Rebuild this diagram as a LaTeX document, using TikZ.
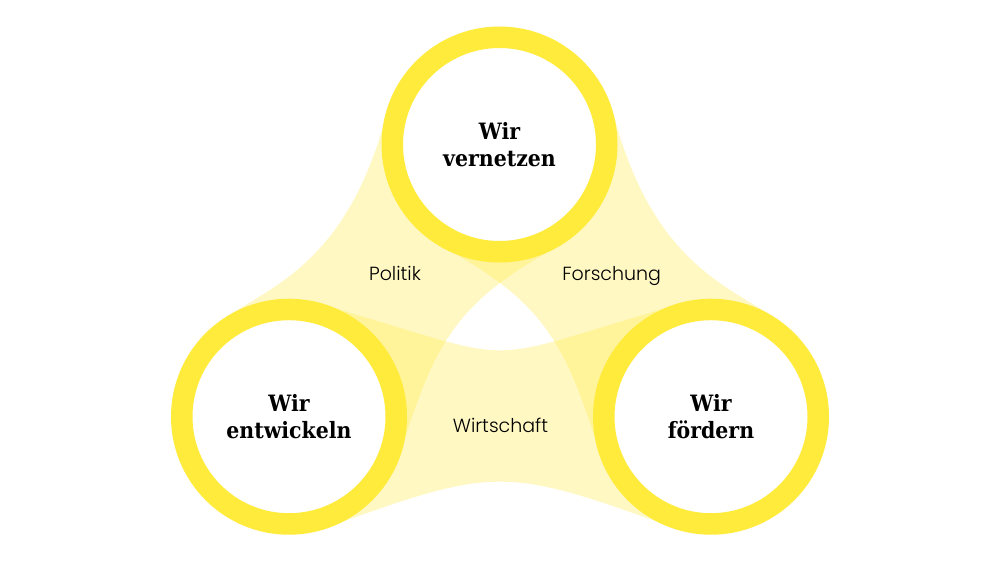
\documentclass[tikz,border=0pt]{standalone}
\usepackage{fontspec}
\newfontfamily\slabfont{DejaVu Serif}[FakeStretch=0.91]
\newfontfamily\labfont{Poppins Light}
\pgfdeclarelayer{background}
\pgfsetlayers{background,main}
\definecolor{ringyellow}{RGB}{255,235,59}
\begin{document}
\begin{tikzpicture}[x=1pt,y=-1pt,
  ring/.style={circle, draw=ringyellow, fill=white, line width=21.5pt,
    minimum size=214.5pt, inner sep=0pt, align=center,
    font=\slabfont\bfseries\fontsize{22.5}{26.7}\selectfont},
  lab/.style={anchor=base, inner sep=0pt, font=\labfont\fontsize{19}{22}\selectfont},
  band/.style={fill=ringyellow, fill opacity=0.3}]
\useasboundingbox (0,0) rectangle (1000,562);
% rings
\node[ring] (top) at (499.5,144.5) {Wir\\vernetzen};
\node[ring] (lft) at (289,416.7) {Wir\\entwickeln};
\node[ring] (rgt) at (711,416.7) {Wir\\f\"ordern};
% labels
\node[lab] (politik) at (395,280.7) {Politik};
\node[lab] (forschung) at (611.7,280.7) {Forschung};
\node[lab] (wirtschaft) at (500.5,432.7) {Wirtschaft};
\begin{pgfonlayer}{background}
\fill[white] (0,0) rectangle (1000,562);
% Politik band (top - left)
\path[band] (386.4,114.7) .. controls (348.1,259.7) and (275,285.1) .. (224.7,317.8)
  -- (lft.center) -- (400.6,451.8) .. controls (435.1,342.1) and (456.2,302.4) .. (556.9,247)
  -- (top.center) -- cycle;
% Forschung band (top - right)
\path[band] (613.6,114.7) .. controls (651.9,259.7) and (725,285.1) .. (775.3,317.8)
  -- (rgt.center) -- (599.4,451.8) .. controls (564.9,342.1) and (543.8,302.4) .. (443.1,247)
  -- (top.center) -- cycle;
% Wirtschaft band (left - right)
\path[band] (321.5,304.4) .. controls (532.7,365.6) and (467.3,365.6) .. (678.5,304.4)
  -- (rgt.center) -- (671,526.7) .. controls (506.1,466.7) and (493.9,466.7) .. (329,526.7)
  -- (lft.center) -- cycle;
\end{pgfonlayer}
\end{tikzpicture}
\end{document}
